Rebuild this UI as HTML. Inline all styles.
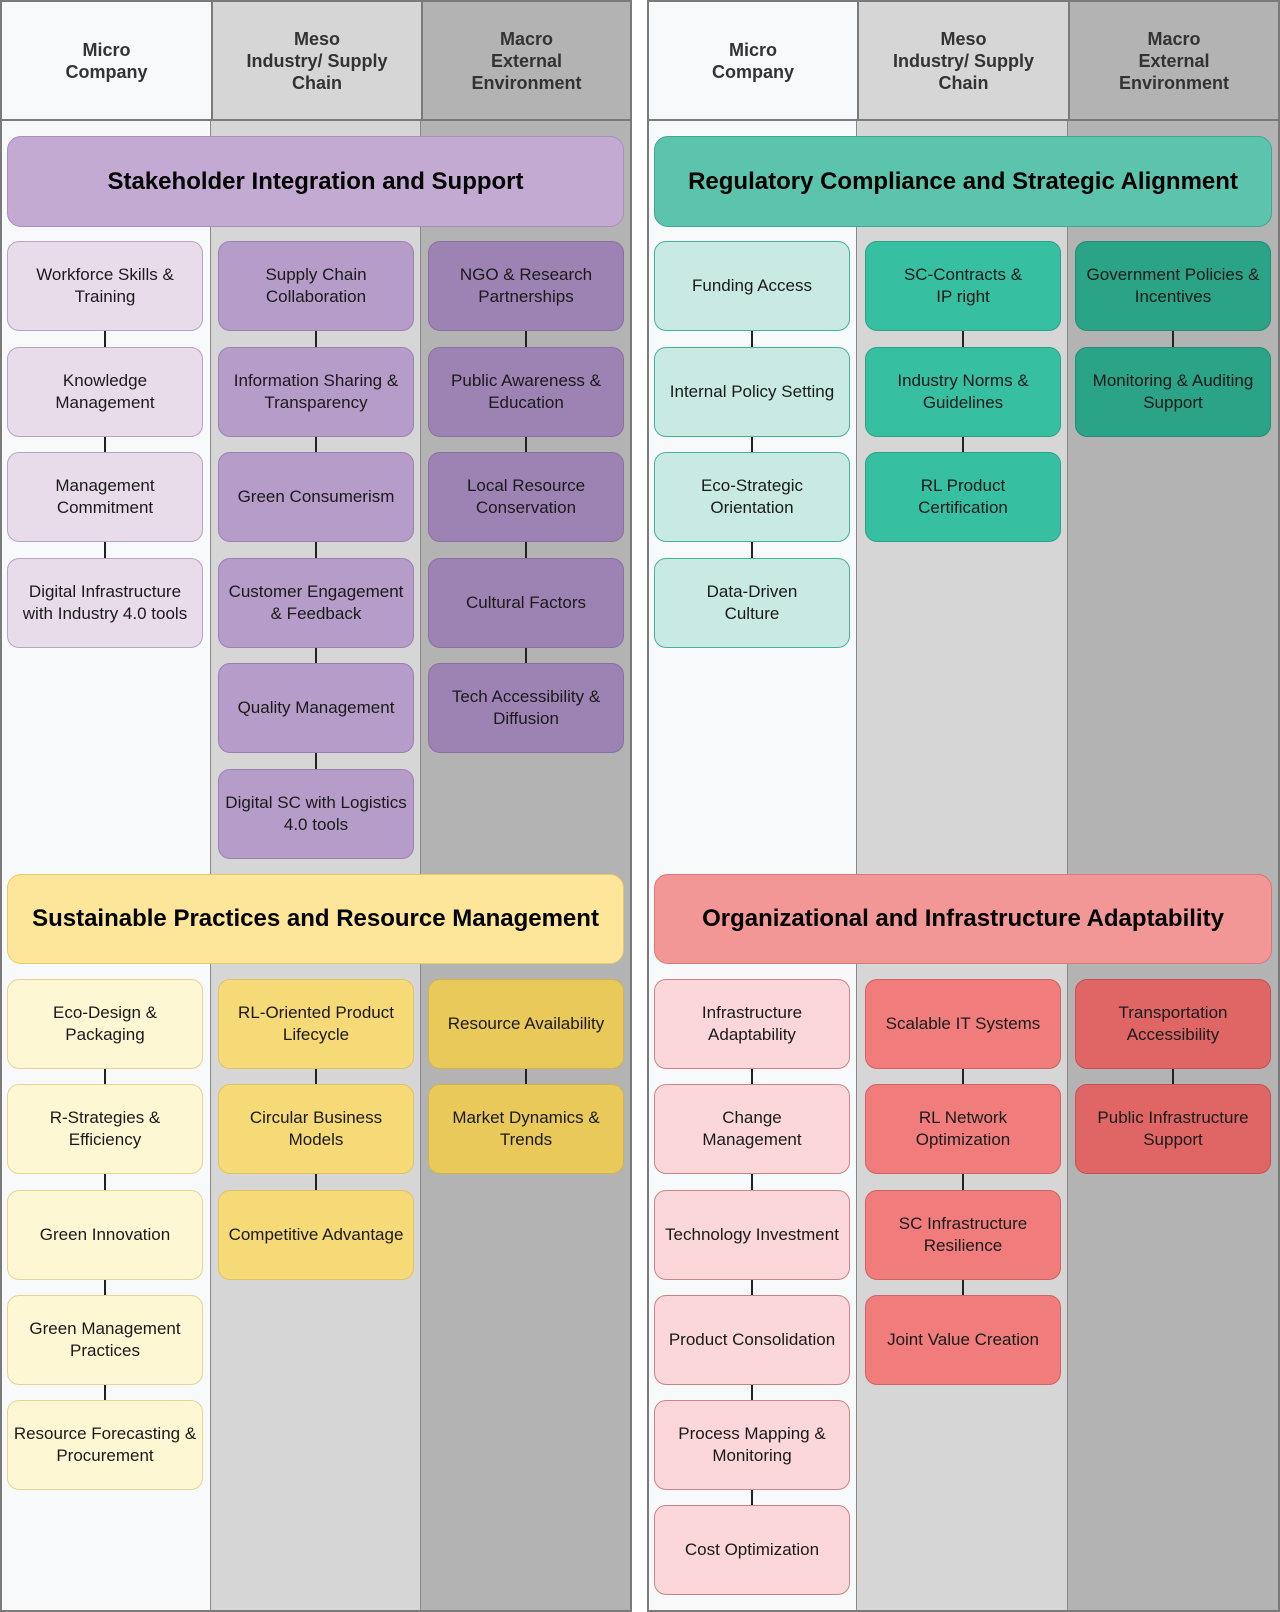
<!DOCTYPE html>
<html><head><meta charset="utf-8"><style>
body{margin:0;width:1280px;height:1612px;position:relative;background:#fff;font-family:"Liberation Sans",sans-serif;overflow:hidden}
.c{position:absolute;box-sizing:border-box}
.h{position:absolute;top:0;height:121px;box-sizing:border-box;border:2px solid #7a7a7a;border-right:none;display:flex;align-items:center;justify-content:center;text-align:center;font-weight:bold;font-size:18px;line-height:22px;color:#333}
.b{position:absolute;box-sizing:border-box;width:196px;height:90px;border-radius:12px;border:1.5px solid;display:flex;align-items:center;justify-content:center;text-align:center;font-size:17px;line-height:22px;color:#1a1a1a;padding:0 3px}
.t{position:absolute;box-sizing:border-box;border-radius:14px;border:1.5px solid;display:flex;align-items:center;justify-content:center;font-weight:bold;font-size:24px;color:#000}
.l{position:absolute;width:1.5px;background:#222;height:16px}
</style></head><body>
<!-- column backgrounds -->
<div class="c" style="left:0;top:0;width:211px;height:1612px;background:#f8f9fa;border:2px solid #7a7a7a;border-right:1px solid #888"></div>
<div class="c" style="left:211px;top:0;width:210px;height:1612px;background:#d6d6d6;border-top:2px solid #7a7a7a;border-bottom:2px solid #7a7a7a;border-right:1px solid #888"></div>
<div class="c" style="left:421px;top:0;width:211px;height:1612px;background:#b3b3b3;border:2px solid #7a7a7a;border-left:none"></div>
<div class="c" style="left:647px;top:0;width:210px;height:1612px;background:#f8f9fa;border:2px solid #7a7a7a;border-right:1px solid #888"></div>
<div class="c" style="left:857px;top:0;width:211px;height:1612px;background:#d6d6d6;border-top:2px solid #7a7a7a;border-bottom:2px solid #7a7a7a;border-right:1px solid #888"></div>
<div class="c" style="left:1068px;top:0;width:212px;height:1612px;background:#b3b3b3;border:2px solid #7a7a7a;border-left:none"></div>
<!-- headers -->
<div class="h" style="left:0;width:211px;background:#f8f9fa">Micro<br>Company</div>
<div class="h" style="left:211px;width:210px;background:#d6d6d6">Meso<br>Industry/ Supply<br>Chain</div>
<div class="h" style="left:421px;width:211px;background:#b3b3b3;border-right:2px solid #7a7a7a">Macro<br>External<br>Environment</div>
<div class="h" style="left:647px;width:210px;background:#f8f9fa">Micro<br>Company</div>
<div class="h" style="left:857px;width:211px;background:#d6d6d6">Meso<br>Industry/ Supply<br>Chain</div>
<div class="h" style="left:1068px;width:212px;background:#b3b3b3;border-right:2px solid #7a7a7a">Macro<br>External<br>Environment</div>

<!-- banners -->
<div class="t" style="left:7px;top:136px;width:617px;height:91px;background:#c3aad3;border-color:#a98fbd">Stakeholder Integration and Support</div>
<div class="t" style="left:654px;top:136px;width:618px;height:91px;background:#5cc4ac;border-color:#3fa98f">Regulatory Compliance and Strategic Alignment</div>
<div class="t" style="left:7px;top:874px;width:617px;height:90px;background:#fde59a;border-color:#e5c96a">Sustainable Practices and Resource Management</div>
<div class="t" style="left:654px;top:874px;width:618px;height:90px;background:#f39696;border-color:#d97878">Organizational and Infrastructure Adaptability</div>

<!-- connectors left top -->
<div class="l" style="left:104px;top:331px;height:86px"></div>
<div class="l" style="left:104px;top:437px;height:86px"></div>
<div class="l" style="left:104px;top:542px;height:86px"></div>
<div class="l" style="left:315px;top:331px;height:440px"></div>
<div class="l" style="left:525px;top:331px;height:340px"></div>
<!-- right top -->
<div class="l" style="left:751px;top:331px;height:300px"></div>
<div class="l" style="left:962px;top:331px;height:200px"></div>
<div class="l" style="left:1172px;top:331px;height:100px"></div>
<!-- left bottom -->
<div class="l" style="left:104px;top:1068px;height:420px"></div>
<div class="l" style="left:315px;top:1068px;height:200px"></div>
<div class="l" style="left:525px;top:1068px;height:100px"></div>
<!-- right bottom -->
<div class="l" style="left:751px;top:1068px;height:460px"></div>
<div class="l" style="left:962px;top:1068px;height:300px"></div>
<div class="l" style="left:1172px;top:1068px;height:100px"></div>

<!-- purple -->
<div class="b" style="left:7px;top:241px;background:#e8dcea;border-color:#b7a3c4">Workforce Skills &amp;<br>Training</div>
<div class="b" style="left:7px;top:347px;background:#e8dcea;border-color:#b7a3c4">Knowledge<br>Management</div>
<div class="b" style="left:7px;top:452px;background:#e8dcea;border-color:#b7a3c4">Management<br>Commitment</div>
<div class="b" style="left:7px;top:558px;background:#e8dcea;border-color:#b7a3c4">Digital Infrastructure<br>with Industry 4.0 tools</div>

<div class="b" style="left:218px;top:241px;background:#b59cc9;border-color:#9b80b1">Supply Chain<br>Collaboration</div>
<div class="b" style="left:218px;top:347px;background:#b59cc9;border-color:#9b80b1">Information Sharing &amp;<br>Transparency</div>
<div class="b" style="left:218px;top:452px;background:#b59cc9;border-color:#9b80b1">Green Consumerism</div>
<div class="b" style="left:218px;top:558px;background:#b59cc9;border-color:#9b80b1">Customer Engagement<br>&amp; Feedback</div>
<div class="b" style="left:218px;top:663px;background:#b59cc9;border-color:#9b80b1">Quality Management</div>
<div class="b" style="left:218px;top:769px;background:#b59cc9;border-color:#9b80b1">Digital SC with Logistics<br>4.0 tools</div>

<div class="b" style="left:428px;top:241px;background:#9d83b3;border-color:#8a6fa0">NGO &amp; Research<br>Partnerships</div>
<div class="b" style="left:428px;top:347px;background:#9d83b3;border-color:#8a6fa0">Public Awareness &amp;<br>Education</div>
<div class="b" style="left:428px;top:452px;background:#9d83b3;border-color:#8a6fa0">Local Resource<br>Conservation</div>
<div class="b" style="left:428px;top:558px;background:#9d83b3;border-color:#8a6fa0">Cultural Factors</div>
<div class="b" style="left:428px;top:663px;background:#9d83b3;border-color:#8a6fa0">Tech Accessibility &amp;<br>Diffusion</div>

<!-- teal -->
<div class="b" style="left:654px;top:241px;background:#c8eae2;border-color:#3fb597">Funding Access</div>
<div class="b" style="left:654px;top:347px;background:#c8eae2;border-color:#3fb597">Internal Policy Setting</div>
<div class="b" style="left:654px;top:452px;background:#c8eae2;border-color:#3fb597">Eco-Strategic<br>Orientation</div>
<div class="b" style="left:654px;top:558px;background:#c8eae2;border-color:#3fb597">Data-Driven<br>Culture</div>

<div class="b" style="left:865px;top:241px;background:#36bfa0;border-color:#2aa386">SC-Contracts &amp;<br>IP right</div>
<div class="b" style="left:865px;top:347px;background:#36bfa0;border-color:#2aa386">Industry Norms &amp;<br>Guidelines</div>
<div class="b" style="left:865px;top:452px;background:#36bfa0;border-color:#2aa386">RL Product<br>Certification</div>

<div class="b" style="left:1075px;top:241px;background:#2aa386;border-color:#238c73">Government Policies &amp;<br>Incentives</div>
<div class="b" style="left:1075px;top:347px;background:#2aa386;border-color:#238c73">Monitoring &amp; Auditing<br>Support</div>

<!-- yellow -->
<div class="b" style="left:7px;top:979px;background:#fdf7d4;border-color:#e3d594">Eco-Design &amp;<br>Packaging</div>
<div class="b" style="left:7px;top:1084px;background:#fdf7d4;border-color:#e3d594">R-Strategies &amp;<br>Efficiency</div>
<div class="b" style="left:7px;top:1190px;background:#fdf7d4;border-color:#e3d594">Green Innovation</div>
<div class="b" style="left:7px;top:1295px;background:#fdf7d4;border-color:#e3d594">Green Management<br>Practices</div>
<div class="b" style="left:7px;top:1400px;background:#fdf7d4;border-color:#e3d594">Resource Forecasting &amp;<br>Procurement</div>

<div class="b" style="left:218px;top:979px;background:#f7da78;border-color:#e0c260">RL-Oriented Product<br>Lifecycle</div>
<div class="b" style="left:218px;top:1084px;background:#f7da78;border-color:#e0c260">Circular Business<br>Models</div>
<div class="b" style="left:218px;top:1190px;background:#f7da78;border-color:#e0c260">Competitive Advantage</div>

<div class="b" style="left:428px;top:979px;background:#e9c95a;border-color:#d4b44a">Resource Availability</div>
<div class="b" style="left:428px;top:1084px;background:#e9c95a;border-color:#d4b44a">Market Dynamics &amp;<br>Trends</div>

<!-- red -->
<div class="b" style="left:654px;top:979px;background:#fbd7da;border-color:#c98585">Infrastructure<br>Adaptability</div>
<div class="b" style="left:654px;top:1084px;background:#fbd7da;border-color:#c98585">Change<br>Management</div>
<div class="b" style="left:654px;top:1190px;background:#fbd7da;border-color:#c98585">Technology Investment</div>
<div class="b" style="left:654px;top:1295px;background:#fbd7da;border-color:#c98585">Product Consolidation</div>
<div class="b" style="left:654px;top:1400px;background:#fbd7da;border-color:#c98585">Process Mapping &amp;<br>Monitoring</div>
<div class="b" style="left:654px;top:1505px;background:#fbd7da;border-color:#c98585">Cost Optimization</div>

<div class="b" style="left:865px;top:979px;background:#f07c7c;border-color:#cf6363">Scalable IT Systems</div>
<div class="b" style="left:865px;top:1084px;background:#f07c7c;border-color:#cf6363">RL Network<br>Optimization</div>
<div class="b" style="left:865px;top:1190px;background:#f07c7c;border-color:#cf6363">SC Infrastructure<br>Resilience</div>
<div class="b" style="left:865px;top:1295px;background:#f07c7c;border-color:#cf6363">Joint Value Creation</div>

<div class="b" style="left:1075px;top:979px;background:#e06565;border-color:#c45252">Transportation<br>Accessibility</div>
<div class="b" style="left:1075px;top:1084px;background:#e06565;border-color:#c45252">Public Infrastructure<br>Support</div>
</body></html>
